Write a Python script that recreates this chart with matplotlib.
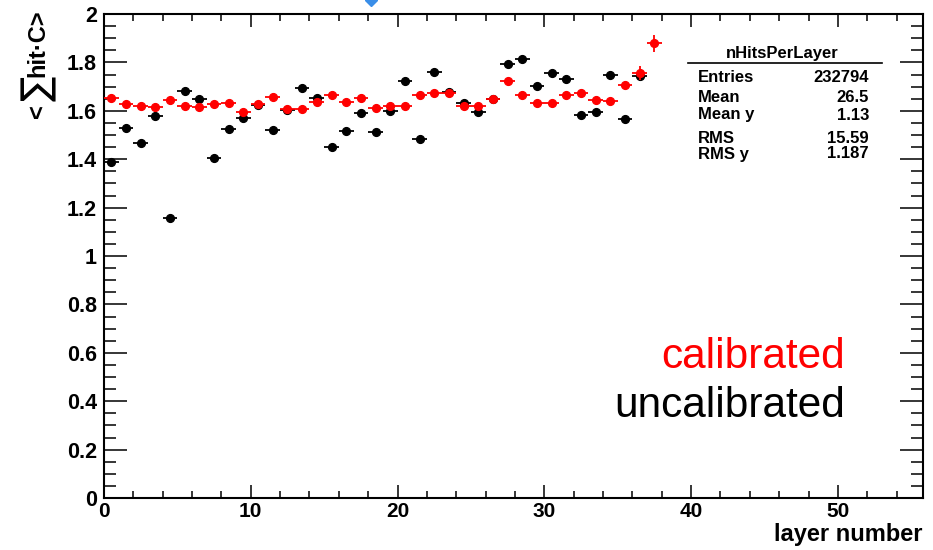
import numpy as np
import matplotlib
matplotlib.use('Agg')
import matplotlib.pyplot as plt
from matplotlib.lines import Line2D

# ---------------- data ----------------
layers = [0.5, 1.5, 2.5, 3.5, 4.5, 5.5, 6.5, 7.5, 8.5, 9.5,
          10.5, 11.5, 12.5, 13.5, 14.5, 15.5, 16.5, 17.5, 18.5, 19.5,
          20.5, 21.5, 22.5, 23.5, 24.5, 25.5, 26.5, 27.5, 28.5, 29.5,
          30.5, 31.5, 32.5, 33.5, 34.5, 35.5, 36.5, 37.5]

calibrated = [1.652, 1.628, 1.621, 1.614, 1.643, 1.620, 1.616, 1.628, 1.632, 1.595,
              1.628, 1.656, 1.607, 1.606, 1.636, 1.665, 1.635, 1.653, 1.613, 1.619,
              1.619, 1.665, 1.672, 1.674, 1.621, 1.620, 1.649, 1.723, 1.667, 1.634,
              1.632, 1.665, 1.674, 1.643, 1.640, 1.708, 1.758, 1.879]
calibrated_err = [0.004] * 36 + [0.029, 0.036]

uncalibrated = [1.390, 1.528, 1.468, 1.579, 1.156, 1.682, 1.650, 1.404, 1.526, 1.572,
                1.626, 1.521, 1.605, 1.696, 1.652, 1.452, 1.517, 1.592, 1.514, 1.599,
                1.725, 1.482, 1.760, 1.676, 1.632, 1.595, 1.647, 1.792, 1.813, 1.704,
                1.756, 1.731, 1.583, 1.595, 1.747, 1.568, 1.743]
uncalibrated_err = [0.004] * 36 + [0.02]

half_bin = 0.5

xticks = [0, 10, 20, 30, 40, 50]
xticklabels = ['0', '10', '20', '30', '40', '50']
yticks = [0, 0.2, 0.4, 0.6, 0.8, 1.0, 1.2, 1.4, 1.6, 1.8, 2.0]
yticklabels = ['0', '0.2', '0.4', '0.6', '0.8', '1', '1.2', '1.4', '1.6', '1.8', '2']

stats_title = 'nHitsPerLayer'
stats_names = ['Entries', 'Mean', 'Mean y', 'RMS', 'RMS y']
stats_values = ['232794', '26.5', '1.13', '15.59', '1.187']

# ---------------- figure ----------------
W, H = 933, 550
plt.rcParams['font.family'] = ['Liberation Sans', 'DejaVu Sans']
fig = plt.figure(figsize=(W / 100, H / 100), dpi=100)
fig.patch.set_facecolor('white')


def fx(px):
    return px / W


def fy(py):
    return 1 - py / H


ax_left, ax_right, ax_top, ax_bottom = 104, 923, 14, 498
ax = fig.add_axes([fx(ax_left), fy(ax_bottom), (ax_right - ax_left) / W, (ax_bottom - ax_top) / H])

ax.errorbar(layers[:len(uncalibrated)], uncalibrated, xerr=half_bin, yerr=uncalibrated_err,
            fmt='o', color='black', ms=5.6, elinewidth=1.3, capsize=0, zorder=3)
ax.errorbar(layers[:len(calibrated)], calibrated, xerr=half_bin, yerr=calibrated_err,
            fmt='o', color='#ff0000', ms=5.6, elinewidth=1.3, capsize=0, zorder=4)

ax.set_xlim(0, 55.8)
ax.set_ylim(0, 2)
ax.set_xticks(xticks)
ax.set_xticklabels(xticklabels)
ax.set_xticks(np.arange(0, 56, 2), minor=True)
ax.set_yticks(yticks)
ax.set_yticklabels(yticklabels)
ax.set_yticks(np.arange(0, 2.001, 0.05), minor=True)

for s in ax.spines.values():
    s.set_linewidth(1.5)

ax.tick_params(axis='both', which='both', direction='in', top=True, right=True, width=1.1)
ax.tick_params(axis='x', which='major', length=9.5, pad=3, labelsize=15)
ax.tick_params(axis='x', which='minor', length=4.8)
ax.tick_params(axis='y', which='major', length=16.5, pad=5, labelsize=15.5)
ax.tick_params(axis='y', which='minor', length=8.5)
for lab in ax.get_xticklabels() + ax.get_yticklabels():
    lab.set_fontweight('bold')

# x title
fig.text(fx(922), fy(541), 'layer number', ha='right', va='baseline',
         fontsize=17, fontweight='bold')

# y title, in pieces: "<", big sum, "hit·C>"
fig.text(fx(38), fy(9), 'hit·C>', rotation=90, ha='center', va='top',
         fontsize=17, fontweight='bold')
fig.text(fx(39), fy(88), '∑', rotation=90, ha='center', va='center',
         fontsize=27, family='DejaVu Sans')
fig.text(fx(38), fy(118), '<', rotation=90, ha='center', va='bottom',
         fontsize=17, fontweight='bold')

# stats box
fig.text(fx(782), fy(58), stats_title, ha='center', va='baseline', fontsize=12, fontweight='bold')
fig.add_artist(Line2D([fx(688), fx(882)], [fy(63), fy(63)], color='black', lw=1.2))
baselines = [82, 101.5, 119.5, 143, 158.5]
for name, val, b in zip(stats_names, stats_values, baselines):
    fig.text(fx(698), fy(b), name, ha='left', va='baseline', fontsize=12, fontweight='bold')
    fig.text(fx(869), fy(b), val, ha='right', va='baseline', fontsize=12, fontweight='bold')

# labels
fig.text(fx(845), fy(368), 'calibrated', ha='right', va='baseline', fontsize=30.5, color='#ff0000')
fig.text(fx(845), fy(417), 'uncalibrated', ha='right', va='baseline', fontsize=30.5, color='black')

# small blue marker cut at top edge
fig.add_artist(Line2D([fx(371)], [fy(0)], marker='D', ms=6.5, color='#3a8ee8', lw=0))

fig.savefig('out.png', dpi=100)
